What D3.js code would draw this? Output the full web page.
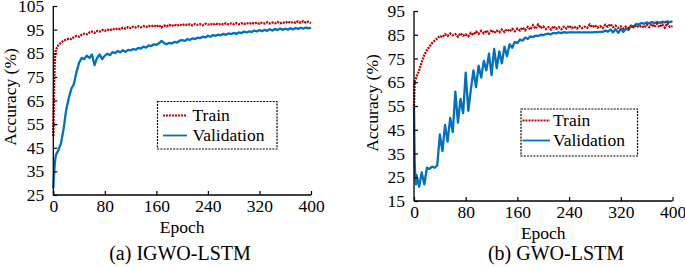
<!DOCTYPE html>
<html>
<head>
<meta charset="utf-8">
<script src="https://cdn.jsdelivr.net/npm/d3@7"></script>
<style>
  body { margin: 0; background: #fff; }
  svg { display: block; }
  text { font-family: "Liberation Serif", "Times New Roman", serif; fill: #000; }
</style>
</head>
<body>
<svg id="chart" width="685" height="267"></svg>
<script>
// epochs sampled (dense at the start, then every 4 epochs)
const epochs = [0, 1, 2, 3].concat(d3.range(4, 401, 4));
const xTicks = [0, 80, 160, 240, 320, 400];

// (a) IGWO-LSTM
const igwoTrain = [50, 68, 80, 85,
    86.5, 88.5, 89.5, 90.3, 90.8, 91.2, 91.0, 91.8, 92.3, 92.0,
    92.8, 93.3, 93.0, 93.8, 94.2, 93.6, 94.4, 94.2, 94.8, 94.5,
    95.0, 94.7, 95.3, 95.0, 95.5, 95.2, 95.8, 95.4, 96.1, 95.6,
    96.2, 95.9, 96.4, 96.0, 96.5, 96.1, 96.6, 96.3, 96.8, 96.2,
    96.9, 95.9, 96.7, 96.3, 97.0, 96.5, 97.1, 96.6, 97.2, 96.8,
    97.3, 96.9, 97.3, 96.8, 97.4, 97.0, 97.3, 96.9, 97.5, 97.1,
    97.4, 97.0, 97.6, 97.1, 97.5, 97.2, 97.7, 97.2, 97.6, 97.3,
    97.8, 97.3, 97.7, 97.4, 97.8, 97.4, 97.9, 97.5, 98.0, 97.5,
    97.9, 97.6, 98.1, 97.6, 98.0, 97.7, 98.2, 97.7, 98.1, 97.8,
    98.4, 97.8, 98.3, 97.9, 98.5, 97.9, 98.6, 98.0, 98.3, 97.8];
const igwoVal = [28, 33, 37, 40,
    42, 44, 47, 53, 61, 66, 70, 72, 77, 81,
    83, 82.5, 84, 83, 84.5, 80, 83, 84.5, 82.5, 84,
    84.8, 84.2, 85.5, 85, 86, 85.4, 86.3, 85.6, 86.4, 86.2,
    86.8, 86.5, 87.3, 87, 87.8, 87.4, 88.3, 88, 88.8, 88.5,
    89.2, 90.2, 89.3, 88.8, 89.4, 89.1, 89.8, 89.5, 90.3, 90.6,
    90.2, 91, 90.6, 91.3, 91, 91.6, 91.4, 92, 91.7, 92.4,
    92, 92.7, 92.4, 92.9, 92.6, 93.2, 92.8, 93.4, 93.1, 93.6,
    93.2, 93.8, 93.5, 94.2, 93.8, 94.3, 94, 94.6, 94.2, 94.8,
    94.3, 94.9, 94.5, 95.2, 94.6, 95.3, 94.8, 95.5, 94.9, 95.4,
    95, 95.6, 95.1, 95.7, 95.3, 95.8, 95.4, 95.9, 95.5, 95.8];

// (b) GWO-LSTM
const gwoTrain = [55, 65, 66, 66.5,
    67.5, 70, 73.5, 76.5, 78.5, 80, 81.5, 82.5, 83.5, 84.5,
    84, 85.2, 84.5, 85.5, 84.8, 85.3, 84.2, 85.6, 84.6, 85.2,
    84.3, 85.8, 85, 86.3, 85.4, 86.6, 85.6, 86.8, 85.5, 87,
    85.8, 86.7, 86, 87.2, 86.2, 87.3, 86.4, 87.5, 86.5, 87.6,
    86.8, 88, 86.9, 88.3, 87.2, 89, 87.5, 89.3, 87.8, 88.5,
    87.4, 88.2, 87.2, 88.6, 87.5, 88.2, 87.3, 88.4, 87.6, 88.8,
    87.8, 88.4, 87.6, 88.6, 87.8, 88.4, 87.9, 89.3, 88.2, 89,
    88, 88.6, 87.8, 89.2, 88.4, 89.5, 88.2, 88.8, 87.9, 88.5,
    87.6, 88.4, 87.8, 88.7, 88.1, 89, 88.2, 88.8, 88, 89.3,
    88.2, 89.5, 88.3, 89.6, 88.2, 89.4, 88, 89.8, 88.3, 88.6];
const gwoVal = [55, 32, 25, 22,
    26, 21, 27, 22, 29, 28.5, 29.5, 29, 30, 43,
    36, 47, 40, 50, 44, 61, 48, 58, 52, 69,
    53, 62, 70, 63, 72, 67, 74, 70, 77, 68,
    79, 71, 78, 73, 80, 76, 81, 79.5, 82, 81.5,
    83, 82.5, 83.8, 83.2, 84.3, 84, 84.6, 84.5, 85, 84.8,
    85.3, 85.5, 85.2, 85.8, 85.6, 86, 85.7, 86.1, 85.9, 86,
    86, 86, 86, 86, 86, 86, 86, 86, 86, 86.1,
    86.1, 86.2, 86.2, 86.8, 86.3, 87.2, 86, 87.4, 85.8, 87.5,
    86.2, 87.6, 87, 88.8, 88.4, 89.6, 89.3, 90, 89.6, 90.2,
    89.8, 90.3, 89.9, 90.4, 90, 90.5, 90.2, 90.6, 90.3, 90.7];

const trainColor = "#c00000";
const valColor = "#0070c0";
const fontSize = 17.5;

const svg = d3.select("#chart");

function drawPanel(p)
{
    const x = d3.scaleLinear().domain([0, 400]).range([p.x0, p.x1]);
    const y = d3.scaleLinear().domain(p.yDomain).range([p.y0, p.y1]);
    const g = svg.append("g");

    const line = d3.line()
        .x((d, i) => x(epochs[i]))
        .y((d) => y(d));

    // validation under train
    g.append("path")
        .attr("fill", "none")
        .attr("stroke", valColor)
        .attr("stroke-width", 2.3)
        .attr("stroke-linejoin", "round")
        .attr("d", line(p.val));

    g.append("path")
        .attr("fill", "none")
        .attr("stroke", trainColor)
        .attr("stroke-width", 2.3)
        .attr("stroke-dasharray", "2,1")
        .attr("d", line(p.train));

    // axes, ticks point inward
    const xAxis = g.append("g")
        .attr("transform", `translate(0, ${p.y0})`)
        .call(d3.axisBottom(x).tickValues(xTicks).tickSize(-4).tickPadding(5).tickFormat(d3.format("d")));
    const yAxis = g.append("g")
        .attr("transform", `translate(${p.x0}, 0)`)
        .call(d3.axisLeft(y).tickValues(p.yTicks).tickSize(-4).tickPadding(9).tickFormat(d3.format("d")));

    [xAxis, yAxis].forEach((a) => {
        a.select(".domain").attr("stroke", "#000").attr("stroke-width", 1.3);
        a.selectAll(".tick line").attr("stroke", "#000").attr("stroke-width", 1.2);
        a.selectAll("text")
            .attr("font-family", "Liberation Serif, serif")
            .attr("font-size", fontSize)
            .attr("fill", "#000");
    });
    xAxis.select(".domain").attr("d", `M${p.x0},0H${p.x1}`);
    yAxis.select(".domain").attr("d", `M0,${p.y0}V${p.y1}`);

    g.append("text")
        .attr("x", (p.x0 + p.x1) / 2)
        .attr("y", p.y0 + 37.5)
        .attr("text-anchor", "middle")
        .attr("font-size", fontSize)
        .text("Epoch");

    g.append("text")
        .attr("transform", `translate(${p.yLabelX}, ${p.yLabelY}) rotate(-90)`)
        .attr("text-anchor", "middle")
        .attr("font-size", fontSize)
        .text("Accuracy (%)");

    g.append("text")
        .attr("x", p.captionX)
        .attr("y", 260)
        .attr("text-anchor", "middle")
        .attr("font-size", 20)
        .text(p.caption);

    // legend
    const L = p.legend;
    g.append("rect")
        .attr("x", L.x).attr("y", L.y)
        .attr("width", L.w).attr("height", L.h)
        .attr("fill", "#fff")
        .attr("stroke", "#000")
        .attr("stroke-width", 1.2)
        .attr("stroke-dasharray", "2,1.2");

    const items = [
        { name: "Train", color: trainColor, dash: "2,1" },
        { name: "Validation", color: valColor, dash: null }
    ];
    items.forEach((it, i) => {
        const ly = L.y + L.row0 + i * 20;
        g.append("line")
            .attr("x1", L.x + L.lineX0).attr("x2", L.x + L.lineX1)
            .attr("y1", ly).attr("y2", ly)
            .attr("stroke", it.color)
            .attr("stroke-width", 1.8)
            .attr("stroke-dasharray", it.dash);
        g.append("text")
            .attr("x", L.x + L.textX)
            .attr("y", ly + 5.5)
            .attr("font-size", fontSize)
            .text(it.name);
    });
}

drawPanel({
    x0: 53.3, x1: 311, y0: 195, y1: 6,
    yDomain: [25, 105], yTicks: [25, 35, 45, 55, 65, 75, 85, 95, 105],
    train: igwoTrain, val: igwoVal,
    yLabelX: 15.5, yLabelY: 97,
    captionX: 180, caption: "(a) IGWO-LSTM",
    legend: { x: 157.5, y: 101.5, w: 119.5, h: 47.5, row0: 14, lineX0: 5.5, lineX1: 29.5, textX: 35 }
});

drawPanel({
    x0: 414, x1: 672.5, y0: 201, y1: 11,
    yDomain: [15, 95], yTicks: [15, 25, 35, 45, 55, 65, 75, 85, 95],
    train: gwoTrain, val: gwoVal,
    yLabelX: 377.5, yLabelY: 103,
    captionX: 556, caption: "(b) GWO-LSTM",
    legend: { x: 521, y: 109, w: 116.5, h: 47, row0: 11.5, lineX0: 1.5, lineX1: 29, textX: 32 }
});
</script>
</body>
</html>
